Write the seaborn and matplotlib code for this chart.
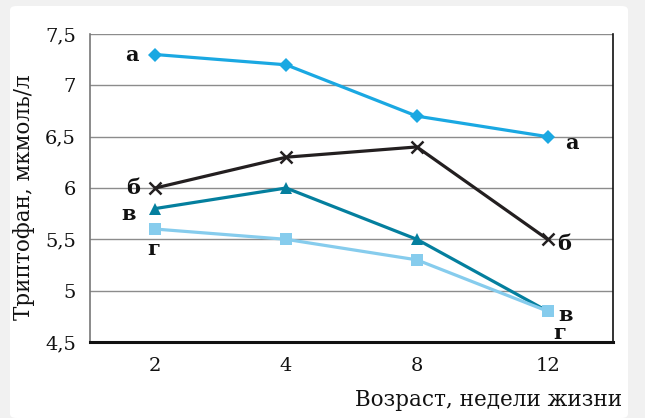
import numpy as np
import pandas as pd
import matplotlib
matplotlib.use("Agg")
import matplotlib.pyplot as plt
import seaborn as sns
from matplotlib.patches import FancyBboxPatch
from matplotlib.ticker import FuncFormatter, FixedLocator

# Данные
weeks = ["2", "4", "8", "12"]
series_names = ["а", "б", "в", "г"]
values_a = [7.3, 7.2, 6.7, 6.5]
values_b = [6.0, 6.3, 6.4, 5.5]
values_v = [5.8, 6.0, 5.5, 4.8]
values_g = [5.6, 5.5, 5.3, 4.8]

colors = ["#1aa8e2", "#231f20", "#047f9e", "#86cced"]
markers = ["D", "x", "^", "s"]
msizes = [7, 9, 9, 9]
# смещения подписей (пиксели) слева и справа
label_left = [(-23, 0), (-22, 0), (-27, -5), (-2, -20)]
label_right = [(24, -6), (16, -5), (18, -4), (12, -22)]

rows = []
for name, vals in zip(series_names, [values_a, values_b, values_v, values_g]):
    for i, v in enumerate(vals):
        rows.append({"серия": name, "x": i, "y": v})
df = pd.DataFrame(rows)

sns.set_style("white")
plt.rcParams["font.family"] = ["DejaVu Serif"]

fig = plt.figure(figsize=(6.45, 4.18), dpi=100)
fig.patch.set_facecolor("#f1f1f1")
frame = FancyBboxPatch((10 / 645, 0), 618 / 645, 412 / 418,
                       boxstyle="round,pad=0,rounding_size=0.01",
                       transform=fig.transFigure, facecolor="white",
                       edgecolor="none", zorder=-5)
fig.patches.append(frame)

ax = fig.add_axes([90 / 645, 1 - 342 / 418, 523 / 645, 308 / 418])
ax.set_facecolor("none")
ax.set_zorder(2)

for k, name in enumerate(series_names):
    sub = df[df["серия"] == name]
    sns.lineplot(data=sub, x="x", y="y", ax=ax, color=colors[k],
                 marker=markers[k], markersize=msizes[k], linewidth=2.3,
                 markeredgewidth=1.8 if markers[k] == "x" else 0,
                 markeredgecolor=colors[k], zorder=3)
    first = sub.iloc[0]
    last = sub.iloc[-1]
    for pt, off in [(first, label_left[k]), (last, label_right[k])]:
        ax.annotate(name, xy=(pt["x"], pt["y"]), xytext=off,
                    textcoords="offset pixels", ha="center", va="center",
                    fontsize=15, fontweight="bold", color="#111111")

ax.set_xlim(-0.5, 3.5)
ax.set_ylim(4.5, 7.5)
ax.set_yticks(np.arange(4.5, 7.51, 0.5))
ax.yaxis.set_major_formatter(FuncFormatter(
    lambda v, p: (f"{v:g}").replace(".", ",")))
ax.set_xticks(range(len(weeks)))
ax.set_xticklabels(weeks)
ax.xaxis.set_minor_locator(FixedLocator(np.arange(-0.5, 3.6, 1)))
ax.tick_params(axis="x", which="major", length=0, labelsize=14, pad=11,
               labelcolor="#111111")
ax.tick_params(axis="x", which="minor", length=7, width=1.2, color="#333333",
               direction="out")
ax.tick_params(axis="y", length=6, width=1, color="#777777", labelsize=14,
               pad=4, labelcolor="#111111")
ax.grid(axis="y", color="#8c8c8c", linewidth=1)
ax.set_axisbelow(True)

ax.spines["top"].set_visible(False)
ax.spines["left"].set_color("#777777")
ax.spines["left"].set_linewidth(1.2)
ax.spines["bottom"].set_color("#111111")
ax.spines["bottom"].set_linewidth(2.2)
ax.spines["right"].set_color("#111111")
ax.spines["right"].set_linewidth(1.2)

ax.set_xlabel("Возраст, недели жизни", fontsize=15.5, color="#111111")
ax.xaxis.set_label_coords(1.017, -0.153)
ax.xaxis.label.set_ha("right")
ax.set_ylabel("Триптофан, мкмоль/л", fontsize=15.5, color="#111111")
ax.yaxis.set_label_coords(-0.105, 0.47)

plt.savefig("out.png", dpi=100, facecolor=fig.get_facecolor())
